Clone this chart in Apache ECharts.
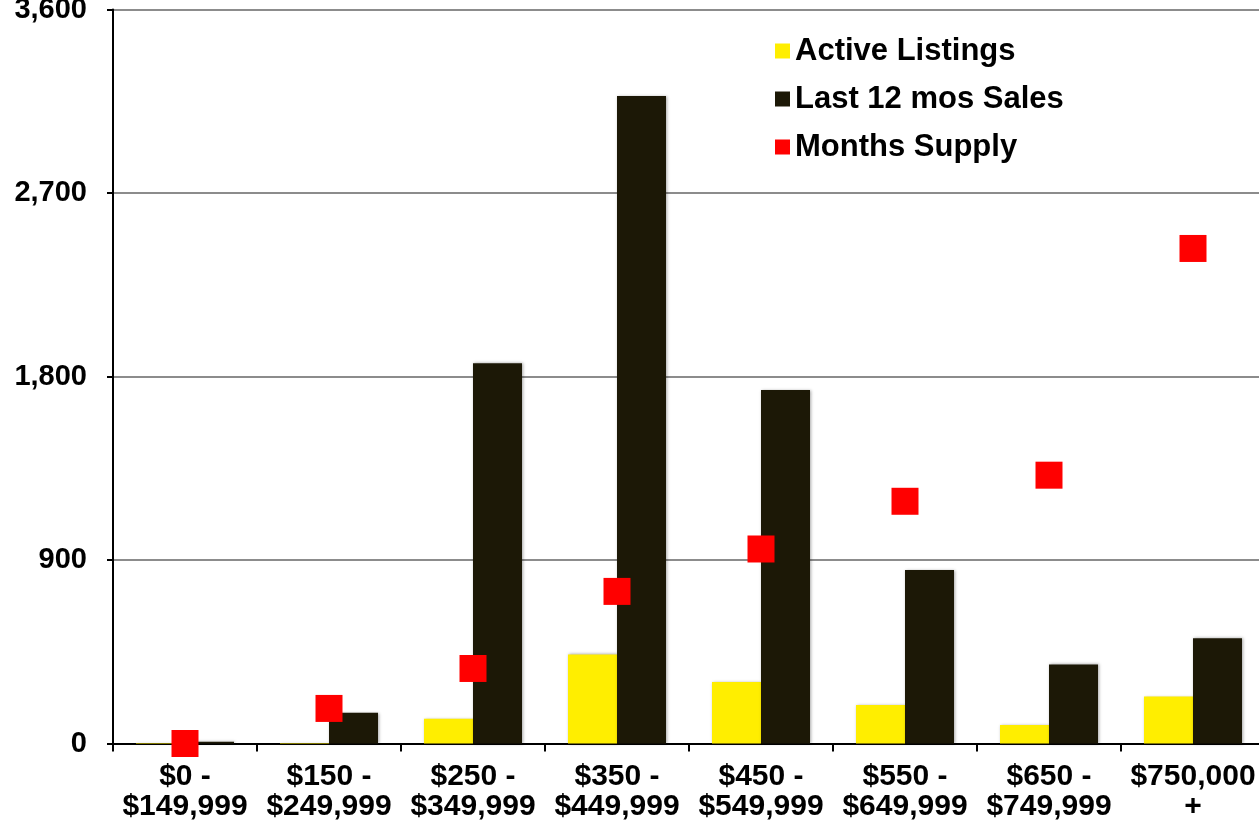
<!DOCTYPE html>
<html>
<head>
<meta charset="utf-8">
<script src="https://cdn.jsdelivr.net/npm/echarts@6/dist/echarts.min.js"></script>
<style>
  html, body { margin: 0; padding: 0; background: #fff; }
  #chart { width: 1259px; height: 825px; }
</style>
</head>
<body>
<div id="chart"></div>
<script>
// price bands
const categories = [
  '$0 -\n$149,999', '$150 -\n$249,999', '$250 -\n$349,999', '$350 -\n$449,999',
  '$450 -\n$549,999', '$550 -\n$649,999', '$650 -\n$749,999', '$750,000\n+'
]
const activeListings = [2, 3, 122, 437, 302, 189, 91, 230]
const lastYearSales = [8, 151, 1865, 3176, 1734, 851, 388, 516]
const monthsSupply = [0, 0.86, 1.84, 3.73, 4.77, 5.94, 6.58, 12.14]
const yTicks = [0, 900, 1800, 2700, 3600]

const font = '"Liberation Sans", Arial, Helvetica, sans-serif'
const barShadow = { shadowBlur: 3, shadowColor: 'rgba(0,0,0,0.35)', shadowOffsetX: 1, shadowOffsetY: 0 }

const chart = echarts.init(document.getElementById('chart'))

chart.setOption({
  animation: false,
  grid: {
    left: 113, top: 9.5, width: 1152, bottom: 81.5,
    containLabel: false, outerBoundsMode: 'none'
  },
  legend: {
    orient: 'vertical',
    left: 775,
    top: 35.5,
    padding: 0,
    itemWidth: 15,
    itemHeight: 15,
    itemGap: 17,
    icon: 'rect',
    textStyle: { fontFamily: font, fontSize: 31, fontWeight: 'bold', color: '#000', lineHeight: 31 },
    data: ['Active Listings', 'Last 12 mos Sales', 'Months Supply']
  },
  xAxis: {
    type: 'category',
    data: categories,
    axisLine: { lineStyle: { color: '#000', width: 2 } },
    axisTick: { show: true, inside: false, length: 8, interval: 0, lineStyle: { color: '#000', width: 2 } },
    axisLabel: {
      interval: 0, margin: 18, fontFamily: font, fontSize: 30, fontWeight: 'bold',
      color: '#000', lineHeight: 30
    },
    splitLine: { show: false }
  },
  yAxis: [
    {
      type: 'value',
      min: yTicks[0],
      max: yTicks[yTicks.length - 1],
      interval: 900,
      axisLine: { show: true, lineStyle: { color: '#000', width: 2 } },
      axisTick: { show: true, length: 6, lineStyle: { color: '#000', width: 2 } },
      axisLabel: {
        margin: 26, fontFamily: font, fontSize: 29, fontWeight: 'bold', color: '#000',
        formatter: (v) => v.toLocaleString('en-US')
      },
      splitLine: { show: true, lineStyle: { color: '#8c8c8c', width: 2 } }
    },
    {
      type: 'value',
      min: 0,
      max: 18,
      interval: 4.5,
      show: false,
      splitLine: { show: false }
    }
  ],
  series: [
    {
      name: 'Active Listings',
      type: 'bar',
      barWidth: 49,
      barGap: '0%',
      itemStyle: Object.assign({ color: '#ffee00' }, barShadow),
      data: activeListings
    },
    {
      name: 'Last 12 mos Sales',
      type: 'bar',
      barWidth: 49,
      barGap: '0%',
      itemStyle: Object.assign({ color: '#1c1806' }, barShadow),
      data: lastYearSales
    },
    {
      name: 'Months Supply',
      type: 'scatter',
      yAxisIndex: 1,
      symbol: 'rect',
      symbolSize: 27,
      z: 5,
      itemStyle: { color: '#ff0000', opacity: 1 },
      data: monthsSupply
    }
  ]
})
</script>
</body>
</html>
